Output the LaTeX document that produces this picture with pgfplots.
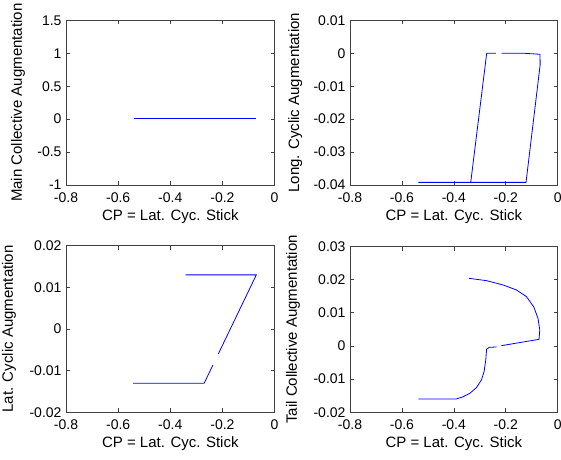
\documentclass[border=0pt]{standalone}
\usepackage{fontspec}
\setmainfont{Liberation Sans}
\usepackage{pgfplots}
\pgfplotsset{compat=1.18}
\definecolor{mblue}{RGB}{0,0,255}
\pgfplotsset{
  mat/.style={
    scale only axis,
    anchor=south west,
    xmin=-0.8, xmax=0,
    xtick={-0.8,-0.6,-0.4,-0.2,0},
    xticklabels={-0.8,-0.6,-0.4,-0.2,0},
    scaled x ticks=false,
    scaled y ticks=false,
    tick align=inside,
    major tick length=4pt,
    axis line style={black!75, line width=0.8pt},
    every tick/.style={black!75, line width=0.7pt},
    tick label style={font=\fontsize{14}{16}\selectfont},
    label style={font=\fontsize{15}{17}\selectfont},
    xlabel={CP = Lat. Cyc. Stick},
    x label style={at={(axis description cs:0.5,-0.19)}, anchor=center},
    xticklabel style={yshift=-4pt},
    yticklabel style={xshift=-1pt},
    unbounded coords=jump,
    clip=false,
  },
}
\begin{document}
\begin{tikzpicture}
\path[use as bounding box] (0,0) rectangle (561pt,459pt);
% Top-left
\begin{axis}[mat, at={(66pt,274pt)}, width=208.6pt, height=164.6pt,
  ymin=-1, ymax=1.5,
  ytick={-1,-0.5,0,0.5,1,1.5},
  yticklabels={-1,-0.5,0,0.5,1,1.5},
  ylabel={Main Collective Augmentation},
  y label style={at={(axis description cs:-0.23,0.5)}, anchor=center}]
\addplot[color=mblue, line width=0.8pt, mark=none] coordinates {(-0.541,0.005) (-0.070,0.005)};
\end{axis}
% Top-right
\begin{axis}[mat, at={(350pt,274pt)}, width=207.7pt, height=164.6pt,
  ymin=-0.04, ymax=0.01,
  ytick={-0.04,-0.03,-0.02,-0.01,0,0.01},
  yticklabels={-0.04,-0.03,-0.02,-0.01,0,0.01},
  ylabel={Long. Cyclic Augmentation},
  y label style={at={(axis description cs:-0.264,0.5)}, anchor=center}]
\addplot[color=mblue, line width=0.8pt, mark=none] coordinates {
(-0.537,-0.0392) (-0.122,-0.0392) (-0.0676,-0.0035) (-0.068,-0.0003)
(-0.126,0) (-0.2157,0) (-0.226,nan) (-0.2377,0) (-0.2735,0) (-0.335,-0.0392)};
\end{axis}
% Bottom-left
\begin{axis}[mat, at={(66pt,46.7pt)}, width=208.6pt, height=166.6pt,
  ymin=-0.02, ymax=0.02,
  ytick={-0.02,-0.01,0,0.01,0.02},
  yticklabels={-0.02,-0.01,0,0.01,0.02},
  ylabel={Lat. Cyclic Augmentation},
  y label style={at={(axis description cs:-0.273,0.5)}, anchor=center}]
\addplot[color=mblue, line width=0.8pt, mark=none] coordinates {
(-0.543,-0.013) (-0.270,-0.013) (-0.2365,-0.00865) (-0.226,nan) (-0.216,-0.006)
(-0.070,0.013) (-0.341,0.013)};
\end{axis}
% Bottom-right
\begin{axis}[mat, at={(350pt,46.7pt)}, width=207.7pt, height=165.8pt,
  ymin=-0.02, ymax=0.03,
  ytick={-0.02,-0.01,0,0.01,0.02,0.03},
  yticklabels={-0.02,-0.01,0,0.01,0.02,0.03},
  ylabel={Tail Collective Augmentation},
  y label style={at={(axis description cs:-0.275,0.5)}, anchor=center}]
\addplot[color=mblue, line width=0.8pt, mark=none] coordinates {
(-0.537,-0.016) (-0.392,-0.016) (-0.364,-0.0153) (-0.338,-0.01426)
(-0.313,-0.01255) (-0.2935,-0.0102) (-0.2835,-0.0077) (-0.277,-0.0042)
(-0.274,-0.001) (-0.264,-0.0004) (-0.2355,-0.0003) (-0.226,nan)
(-0.2166,0.0001) (-0.072,0.002) (-0.069,0.0048) (-0.0757,0.0083)
(-0.0923,0.0118) (-0.1205,0.0149) (-0.159,0.0169) (-0.2103,0.0184)
(-0.274,0.0197) (-0.341,0.0204)};
\end{axis}
\end{tikzpicture}
\end{document}
